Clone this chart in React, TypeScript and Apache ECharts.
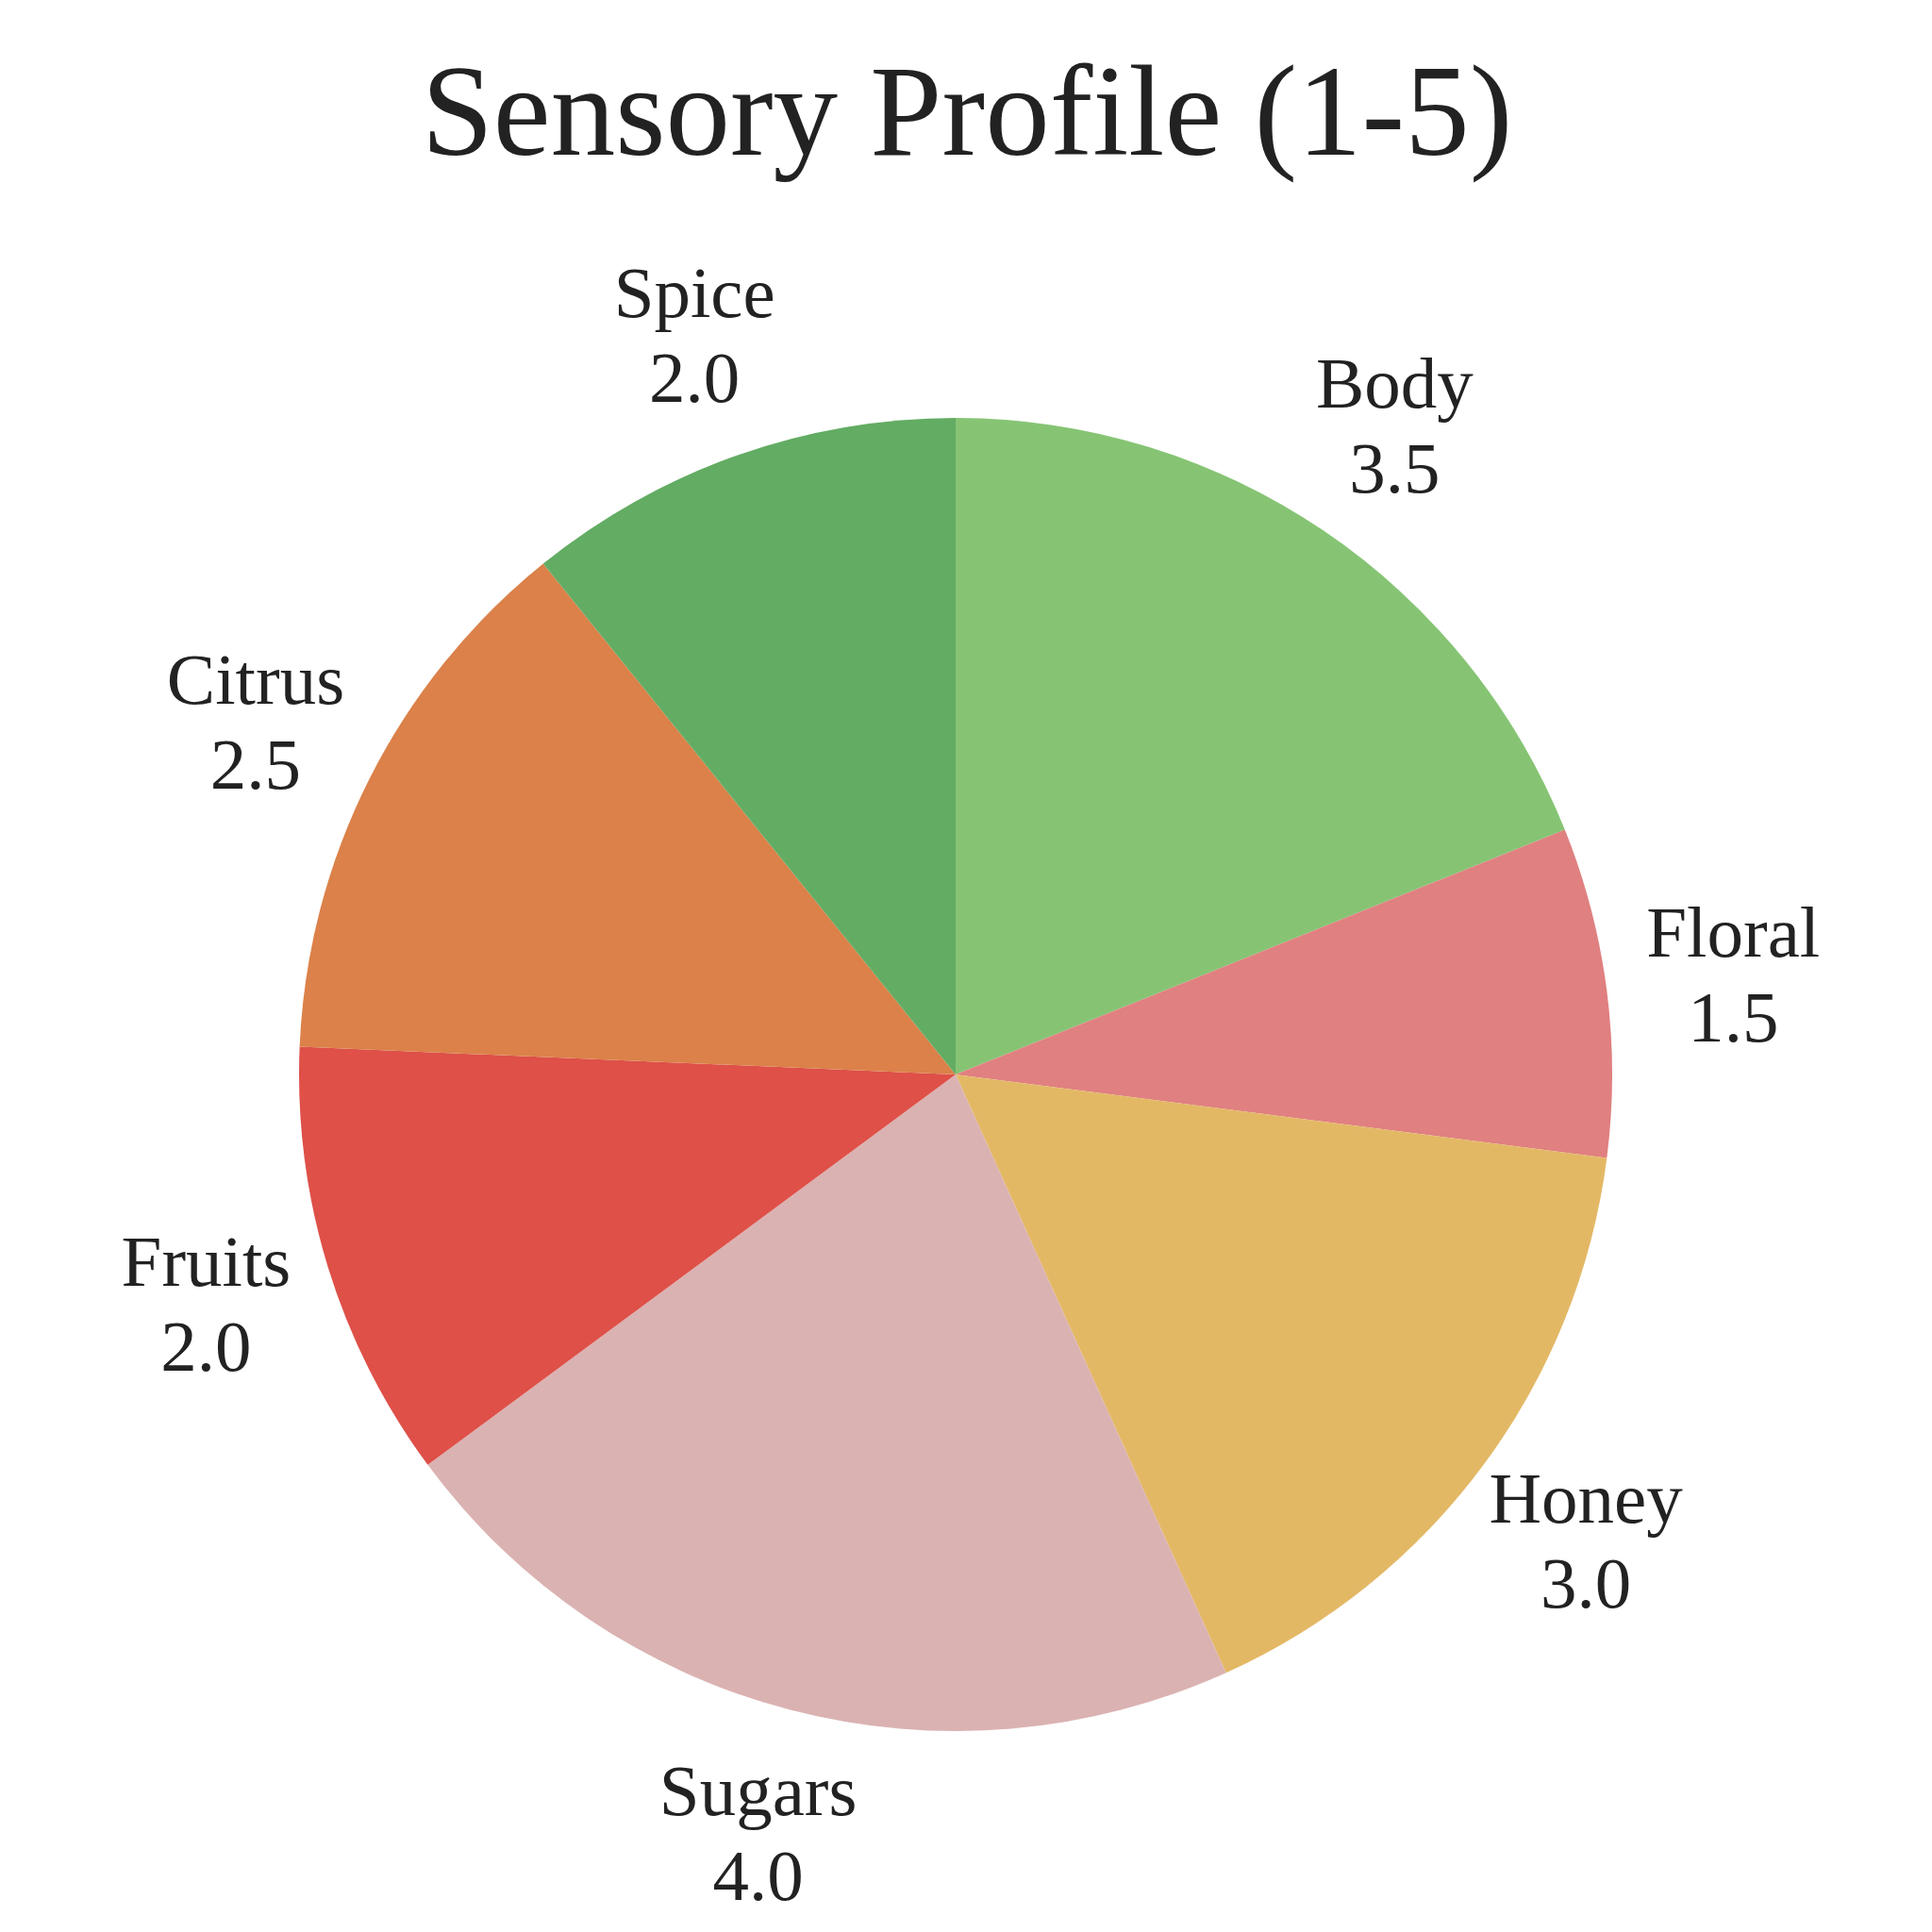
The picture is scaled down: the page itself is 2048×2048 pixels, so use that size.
import * as echarts from "echarts";
import React, { useEffect, useRef } from "react";

const titleText = "Sensory Profile (1-5)";
const categories = ["Body", "Floral", "Honey", "Sugars", "Fruits", "Citrus", "Spice"];
const scores = [3.5, 1.5, 3.0, 4.0, 2.0, 2.5, 2.0];
const colors = ["#86c474", "#e08080", "#e3b865", "#dbb2b2", "#de5048", "#db8149", "#63ac63"];

const FONT = "'Liberation Serif', 'DejaVu Serif', serif";
const CENTER = [1013, 1139];

const App: React.FC = () => {
  const chartRef = useRef<HTMLDivElement | null>(null);

  useEffect(() => {
    const chart = echarts.init(chartRef.current, null, { renderer: "svg" });
    const pieData = categories.map((name, i) => ({
      name,
      value: scores[i],
      itemStyle: { color: colors[i] },
    }));

    chart.setOption({
      animation: false,
      backgroundColor: "#ffffff",
      title: {
        text: titleText,
        left: 1020,
        top: 44,
        textAlign: "center",
        textStyle: {
          fontFamily: FONT,
          fontSize: 137,
          fontWeight: "normal",
          color: "#222222",
        },
      },
      series: [
        {
          type: "pie",
          center: CENTER,
          radius: [0, 696],
          startAngle: 90,
          clockwise: true,
          silent: true,
          label: { show: false },
          labelLine: { show: false },
          data: pieData,
        },
        {
          // transparent ring that only carries the outside labels
          type: "pie",
          center: CENTER,
          radius: [763, 893],
          startAngle: 90,
          clockwise: true,
          silent: true,
          itemStyle: { color: "rgba(0,0,0,0)" },
          label: {
            show: true,
            position: "inside",
            formatter: (p: any) => `${p.name}\n${Number(p.value).toFixed(1)}`,
            fontFamily: FONT,
            fontSize: 77,
            lineHeight: 90,
            color: "#222222",
            align: "center",
          },
          labelLine: { show: false },
          data: categories.map((name, i) => ({ name, value: scores[i] })),
        },
      ],
    });

    return () => {
      chart.dispose();
    };
  }, []);

  return (
    <div
      ref={chartRef}
      style={{ position: "fixed", left: 0, top: 0, width: "2048px", height: "2048px" }}
    ></div>
  );
};

export default App;
